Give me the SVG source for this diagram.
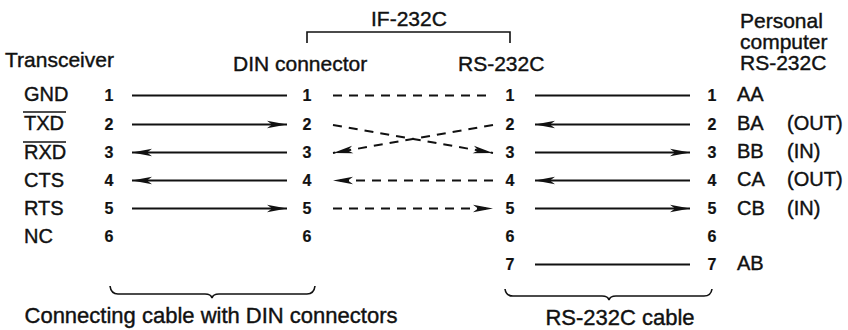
<svg xmlns="http://www.w3.org/2000/svg" width="848" height="330" viewBox="0 0 848 330">
<style>
text{font-family:"Liberation Sans",Arial,sans-serif;fill:#111;stroke:#111;stroke-width:0.4}
.h{font-size:21px}
.l{font-size:20px}
.n{font-size:16px;font-weight:bold;text-anchor:middle;stroke-width:0.2}
.b{font-size:22px}
.s{stroke:#111;stroke-width:1.8;fill:none}
.d{stroke:#111;stroke-width:2;fill:none;stroke-dasharray:9 7}
.br{stroke:#111;stroke-width:1.6;fill:none}
</style>
<defs>
<marker id="ah" viewBox="-21 -5 22 10" refX="0" refY="0" markerWidth="22" markerHeight="10" markerUnits="userSpaceOnUse" orient="auto">
<path d="M0,0 L-20,-3.8 L-15,0 L-20,3.8 Z" fill="#111"/>
</marker>
</defs>

<g id="bracket-if232c">
<text class="h" x="371" y="26">IF-232C</text>
<path class="br" d="M307,43 V32 H510 V43"/>
</g>

<g id="transceiver">
<text class="h" x="5" y="67">Transceiver</text>
<text class="l" x="24" y="101">GND</text>
<text class="l" x="24" y="130">TXD</text>
<line class="br" x1="23" y1="112" x2="66" y2="112"/>
<text class="l" x="24" y="159">RXD</text>
<line class="br" x1="23" y1="142" x2="66" y2="142"/>
<text class="l" x="24" y="187">CTS</text>
<text class="l" x="24" y="215">RTS</text>
<text class="l" x="24" y="243">NC</text>
<text class="n" x="109" y="101">1</text>
<text class="n" x="109" y="130">2</text>
<text class="n" x="109" y="158">3</text>
<text class="n" x="109" y="186">4</text>
<text class="n" x="109" y="214">5</text>
<text class="n" x="109" y="242">6</text>
</g>

<g id="din-connector">
<text class="h" x="233" y="71">DIN connector</text>
<text class="n" x="307" y="101">1</text>
<text class="n" x="307" y="130">2</text>
<text class="n" x="307" y="158">3</text>
<text class="n" x="307" y="186">4</text>
<text class="n" x="307" y="214">5</text>
<text class="n" x="307" y="242">6</text>
</g>

<g id="rs232c">
<text class="h" x="458" y="71">RS-232C</text>
<text class="n" x="510" y="101">1</text>
<text class="n" x="510" y="130">2</text>
<text class="n" x="510" y="158">3</text>
<text class="n" x="510" y="186">4</text>
<text class="n" x="510" y="214">5</text>
<text class="n" x="510" y="242">6</text>
<text class="n" x="510" y="270">7</text>
</g>

<g id="personal-computer">
<text class="h" x="740" y="28">Personal</text>
<text class="h" x="740" y="49">computer</text>
<text class="h" x="740" y="70">RS-232C</text>
<text class="n" x="712" y="101">1</text>
<text class="n" x="712" y="130">2</text>
<text class="n" x="712" y="158">3</text>
<text class="n" x="712" y="186">4</text>
<text class="n" x="712" y="214">5</text>
<text class="n" x="712" y="242">6</text>
<text class="n" x="712" y="270">7</text>
<text class="l" x="737" y="101">AA</text>
<text class="l" x="737" y="130">BA</text>
<text class="l" x="787" y="130">(OUT)</text>
<text class="l" x="737" y="158">BB</text>
<text class="l" x="787" y="158">(IN)</text>
<text class="l" x="737" y="186">CA</text>
<text class="l" x="787" y="186">(OUT)</text>
<text class="l" x="737" y="215">CB</text>
<text class="l" x="787" y="215">(IN)</text>
<text class="l" x="737" y="270">AB</text>
</g>

<g id="connectors">
<line class="s" x1="132" y1="95.5" x2="287" y2="95.5"/>
<line class="s" x1="132" y1="124.5" x2="287" y2="124.5" marker-end="url(#ah)"/>
<line class="s" x1="287" y1="152.5" x2="132" y2="152.5" marker-end="url(#ah)"/>
<line class="s" x1="287" y1="180.5" x2="132" y2="180.5" marker-end="url(#ah)"/>
<line class="s" x1="132" y1="208.5" x2="287" y2="208.5" marker-end="url(#ah)"/>

<line class="d" x1="333" y1="95.5" x2="493" y2="95.5"/>
<line class="d" x1="333" y1="125" x2="493" y2="153" marker-end="url(#ah)"/>
<line class="d" x1="493" y1="125" x2="333" y2="153" marker-end="url(#ah)"/>
<line class="d" x1="493" y1="180.5" x2="333" y2="180.5" marker-end="url(#ah)"/>
<line class="d" x1="333" y1="208.5" x2="493" y2="208.5" marker-end="url(#ah)"/>

<line class="s" x1="535" y1="95.5" x2="690" y2="95.5"/>
<line class="s" x1="690" y1="124.5" x2="535" y2="124.5" marker-end="url(#ah)"/>
<line class="s" x1="535" y1="152.5" x2="690" y2="152.5" marker-end="url(#ah)"/>
<line class="s" x1="690" y1="180.5" x2="535" y2="180.5" marker-end="url(#ah)"/>
<line class="s" x1="535" y1="208.5" x2="690" y2="208.5" marker-end="url(#ah)"/>
<line class="s" x1="535" y1="264.5" x2="690" y2="264.5"/>
</g>

<g id="din-cable">
<path class="br" d="M110,286 Q111,294 118,294 H205 Q211,294 212,298 Q213,294 219,294 H307 Q314,294 315,286"/>
<text class="b" x="211" y="323" text-anchor="middle">Connecting cable with DIN connectors</text>
</g>

<g id="rs232c-cable">
<path class="br" d="M505,289 Q506,296 513,296 H602 Q608,296 609,300 Q610,296 616,296 H704 Q711,296 712,289"/>
<text class="b" x="620" y="325" text-anchor="middle">RS-232C cable</text>
</g>
</svg>
